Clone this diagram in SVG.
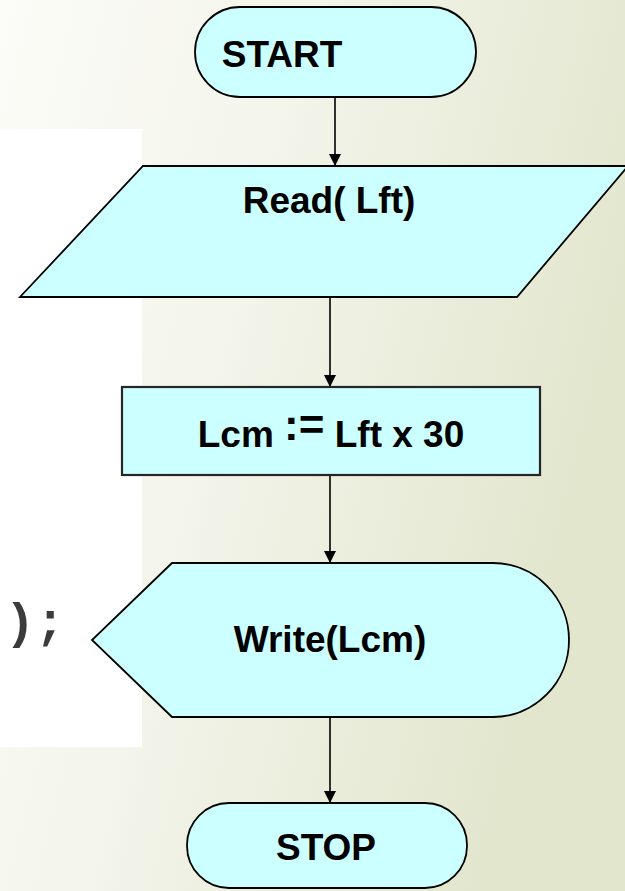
<svg xmlns="http://www.w3.org/2000/svg" width="625" height="891" viewBox="0 0 625 891">
  <defs>
    <linearGradient id="bg" x1="0" y1="0" x2="1" y2="0.35">
      <stop offset="0" stop-color="#fcfcf8"/>
      <stop offset="0.45" stop-color="#f3f4ea"/>
      <stop offset="1" stop-color="#e2e6cd"/>
    </linearGradient>
    <marker id="arrow" markerUnits="userSpaceOnUse" markerWidth="12" markerHeight="12" refX="12" refY="6" orient="auto">
      <path d="M0,0 L12,6 L0,12 Z" fill="#000"/>
    </marker>
    <filter id="soft" x="-10%" y="-10%" width="120%" height="120%">
      <feGaussianBlur stdDeviation="0.6"/>
    </filter>
  </defs>
  <style>
    .shape { fill: #ccffff; stroke: #000; stroke-width: 1.8; }
    .box { fill: #ccffff; stroke: #262626; stroke-width: 2.2; }
    .label { font-family: "Liberation Sans", Arial, sans-serif; font-weight: bold; font-size: 37px; fill: #000; text-anchor: middle; }
    .edge { stroke: #000; stroke-width: 1.6; fill: none; marker-end: url(#arrow); }
    .code { font-family: "Liberation Mono", "DejaVu Sans Mono", monospace; font-weight: bold; font-size: 50px; fill: #3a3a3a; }
  </style>

  <!-- page background -->
  <rect x="0" y="0" width="625" height="891" fill="url(#bg)"/>

  <!-- white code panel on the left -->
  <g id="code-panel">
    <rect x="0" y="129" width="142" height="618" fill="#ffffff"/>
    <text class="code" x="5" y="638" filter="url(#soft)">);</text>
  </g>

  <!-- connectors -->
  <g id="connectors">
    <line class="edge" x1="335" y1="97" x2="335" y2="166"/>
    <line class="edge" x1="330" y1="297" x2="330" y2="387"/>
    <line class="edge" x1="330" y1="475" x2="330" y2="563"/>
    <line class="edge" x1="330" y1="717" x2="330" y2="803"/>
  </g>

  <g id="start">
    <rect class="shape" x="195" y="7" width="281" height="90" rx="45" ry="45"/>
    <text class="label" x="282" y="67" font-size="35">START</text>
  </g>

  <g id="read">
    <polygon class="shape" points="143,166 628,166 517,297 20,297"/>
    <text class="label" x="329" y="213">Read( Lft)</text>
  </g>

  <g id="compute">
    <rect class="box" x="122" y="387" width="418" height="88"/>
    <text class="label" x="331" y="447">Lcm <tspan font-size="44" dy="-7">:=</tspan><tspan dy="7"> Lft x 30</tspan></text>
  </g>

  <g id="write">
    <path class="shape" d="M172,563 L493,563 A76,77 0 0 1 493,717 L172,717 L92,640 Z"/>
    <text class="label" x="330" y="652">Write(Lcm)</text>
  </g>

  <g id="stop">
    <rect class="shape" x="187" y="803" width="280" height="85" rx="42" ry="42"/>
    <text class="label" x="326" y="860">STOP</text>
  </g>
</svg>
